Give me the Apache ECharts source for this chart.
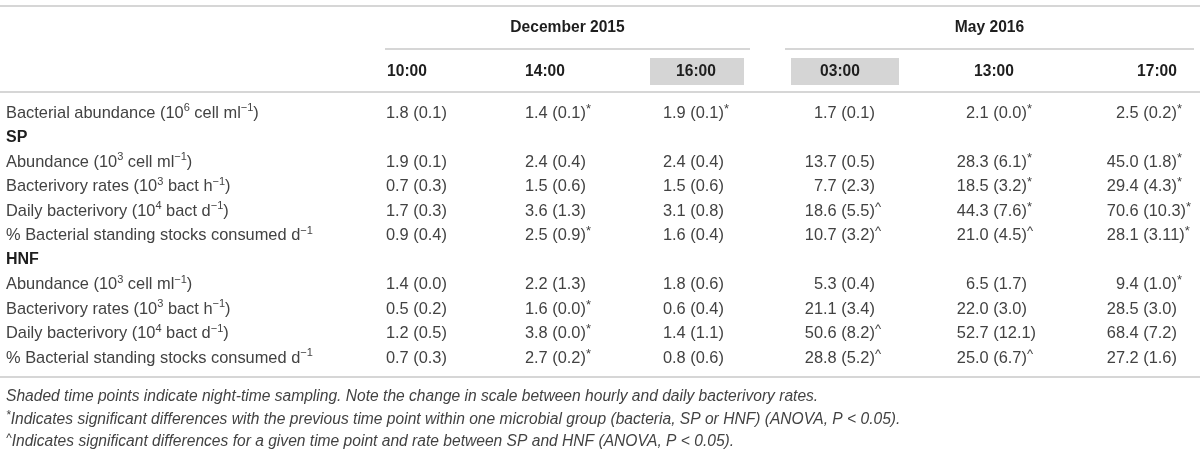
<!DOCTYPE html>
<html><head><meta charset="utf-8">
<script src="https://cdn.jsdelivr.net/npm/echarts@6/dist/echarts.min.js"></script>
<style>html,body{margin:0;padding:0;background:#fff}#c{width:1200px;height:472px}</style>
</head><body><div id="c"></div>
<script>
// ---------------- data ----------------
const months = ['December 2015', 'May 2016'];
const times = ['10:00', '14:00', '16:00', '03:00', '13:00', '17:00'];
const nightTimes = ['16:00', '03:00'];
const rowLabels = [
  'Bacterial abundance (10{s|6} cell ml{s|−1})',
  '{b|SP}',
  'Abundance (10{s|3} cell ml{s|−1})',
  'Bacterivory rates (10{s|3} bact h{s|−1})',
  'Daily bacterivory (10{s|4} bact d{s|−1})',
  '% Bacterial standing stocks consumed d{s|−1}',
  '{b|HNF}',
  'Abundance (10{s|3} cell ml{s|−1})',
  'Bacterivory rates (10{s|3} bact h{s|−1})',
  'Daily bacterivory (10{s|4} bact d{s|−1})',
  '% Bacterial standing stocks consumed d{s|−1}'
];
const bacterialAbundance = ['1.8 (0.1)', '1.4 (0.1)*', '1.9 (0.1)*', '1.7 (0.1)', '2.1 (0.0)*', '2.5 (0.2)*'];
const spAbundance   = ['1.9 (0.1)', '2.4 (0.4)', '2.4 (0.4)', '13.7 (0.5)', '28.3 (6.1)*', '45.0 (1.8)*'];
const spRates       = ['0.7 (0.3)', '1.5 (0.6)', '1.5 (0.6)', '7.7 (2.3)', '18.5 (3.2)*', '29.4 (4.3)*'];
const spDaily       = ['1.7 (0.3)', '3.6 (1.3)', '3.1 (0.8)', '18.6 (5.5)^', '44.3 (7.6)*', '70.6 (10.3)*'];
const spConsumed    = ['0.9 (0.4)', '2.5 (0.9)*', '1.6 (0.4)', '10.7 (3.2)^', '21.0 (4.5)^', '28.1 (3.11)*'];
const hnfAbundance  = ['1.4 (0.0)', '2.2 (1.3)', '1.8 (0.6)', '5.3 (0.4)', '6.5 (1.7)', '9.4 (1.0)*'];
const hnfRates      = ['0.5 (0.2)', '1.6 (0.0)*', '0.6 (0.4)', '21.1 (3.4)', '22.0 (3.0)', '28.5 (3.0)'];
const hnfDaily      = ['1.2 (0.5)', '3.8 (0.0)*', '1.4 (1.1)', '50.6 (8.2)^', '52.7 (12.1)', '68.4 (7.2)'];
const hnfConsumed   = ['0.7 (0.3)', '2.7 (0.2)*', '0.8 (0.6)', '28.8 (5.2)^', '25.0 (6.7)^', '27.2 (1.6)'];
const footnotes = [
  'Shaded time points indicate night-time sampling. Note the change in scale between hourly and daily bacterivory rates.',
  '{m|*}Indicates significant differences with the previous time point within one microbial group (bacteria, SP or HNF) (ANOVA, P < 0.05).',
  '{m|^}Indicates significant differences for a given time point and rate between SP and HNF (ANOVA, P < 0.05).'
];
const rowValues = [bacterialAbundance, null, spAbundance, spRates, spDaily, spConsumed,
                   null, hnfAbundance, hnfRates, hnfDaily, hnfConsumed];

// ---------------- layout / style ----------------
const FONT = '"Liberation Sans", Arial, sans-serif';
const TXT = '#424242', BOLD = '#1e1e1e', RULE = '#d6d6d6', SHADE = '#d5d5d5';
const FS = 16.4, HEAD_FS = 15.6, FOOT_FS = 15.6;
const labelX = 6;
const colAnchor = [395, 534, 672, 823, 975, 1125];   // decimal alignment point per column
const headerX = [407, 545, 696, 840, 994, 1157];
const monthSpan = [[385, 750], [785, 1194]];
const boxSpan = {'16:00': [650, 744], '03:00': [791, 899]};
const yTopRule = 6, yMonth = 28, yMonthRule = 49, yTime = 72, yHeadRule = 92;
const boxTop = 58, boxBot = 85;
const firstRowY = 113, rowH = 24.5;
const yBottomRule = firstRowY + rowH * (rowLabels.length - 1) + 19;
const footY0 = yBottomRule + 20, footH = 22.5;

function rich(size, style) {
  const s = Math.round(size * 0.66);
  const m = Math.round(size * 0.8);
  return {
    s: {fontSize: s, fontFamily: FONT, fontStyle: style || 'normal', fill: TXT, color: TXT,
        lineHeight: s + 1, verticalAlign: 'top'},
    m: {fontSize: m, fontFamily: FONT, fontStyle: style || 'normal', fill: TXT, color: TXT,
        lineHeight: m + 1, verticalAlign: 'top'},
    b: {fontSize: HEAD_FS + 0.4, fontFamily: FONT, fontWeight: 'bold', fill: BOLD, color: BOLD, lineHeight: size + 4}
  };
}
function textStyle(text, x, y, align, opts) {
  opts = opts || {};
  const size = opts.size || FS;
  return {
    text, x, y,
    fill: opts.fill || TXT,
    fontSize: size, fontFamily: FONT,
    fontWeight: opts.weight || 'normal',
    fontStyle: opts.style || 'normal',
    lineHeight: size + 4,
    align, textAlign: align,
    verticalAlign: 'middle', textVerticalAlign: 'middle',
    rich: rich(size, opts.style)
  };
}
function markSup(str) { return str.replace(/([*^])/g, '{m|$1}'); }

// cells: row labels + values
const cells = [];
rowLabels.forEach((lab, r) => {
  cells.push({kind: 'label', r, text: lab});
  const vals = rowValues[r];
  if (vals) vals.forEach((v, c) => cells.push({kind: 'value', r, c, text: v}));
});

const chart = echarts.init(document.getElementById('c'));
const grid = {left: 0, right: 0, top: firstRowY - rowH / 2, height: rowH * rowLabels.length};

const graphics = [];
function hline(x1, x2, y, w) {
  graphics.push({type: 'line', shape: {x1, y1: y, x2, y2: y}, style: {stroke: RULE, lineWidth: w || 1.5}, silent: true});
}
hline(0, 1200, yTopRule, 2);
monthSpan.forEach(s => hline(s[0], s[1], yMonthRule, 2));
hline(0, 1200, yHeadRule, 2);
hline(0, 1200, yBottomRule, 2);
nightTimes.forEach(t => {
  const b = boxSpan[t];
  graphics.push({type: 'rect', shape: {x: b[0], y: boxTop, width: b[1] - b[0], height: boxBot - boxTop},
    style: {fill: SHADE}, silent: true, z: 1});
});
months.forEach((m, i) => {
  graphics.push({type: 'text', z: 5, style: textStyle(m, (monthSpan[i][0] + monthSpan[i][1]) / 2, yMonth, 'center',
    {weight: 'bold', fill: BOLD, size: HEAD_FS})});
});
times.forEach((t, i) => {
  graphics.push({type: 'text', z: 5, style: textStyle(t, headerX[i], yTime, 'center',
    {weight: 'bold', fill: BOLD, size: HEAD_FS})});
});
footnotes.forEach((f, i) => {
  graphics.push({type: 'text', z: 5, style: textStyle(f, labelX, footY0 + i * footH, 'left',
    {size: FOOT_FS, style: 'italic'})});
});

chart.setOption({
  animation: false,
  backgroundColor: '#ffffff',
  grid,
  xAxis: {type: 'value', min: 0, max: 1200, show: false},
  yAxis: {type: 'category', data: rowLabels.map((_, i) => 'r' + i), inverse: true, show: false},
  graphic: graphics,
  series: [{
    type: 'custom',
    coordinateSystem: 'cartesian2d',
    data: cells.map(c => [c.kind === 'label' ? labelX : colAnchor[c.c], c.r]),
    renderItem: function (params, api) {
      const cell = cells[params.dataIndex];
      const p = api.coord([api.value(0), api.value(1)]);
      if (cell.kind === 'label') {
        return {type: 'text', style: textStyle(cell.text, p[0], p[1], 'left')};
      }
      const m = cell.text.match(/^(\d+)(\..*)$/);
      return {
        type: 'group',
        children: [
          {type: 'text', style: textStyle(m[1], p[0], p[1], 'right')},
          {type: 'text', style: textStyle(markSup(m[2]), p[0], p[1], 'left')}
        ]
      };
    }
  }]
});
</script></body></html>
